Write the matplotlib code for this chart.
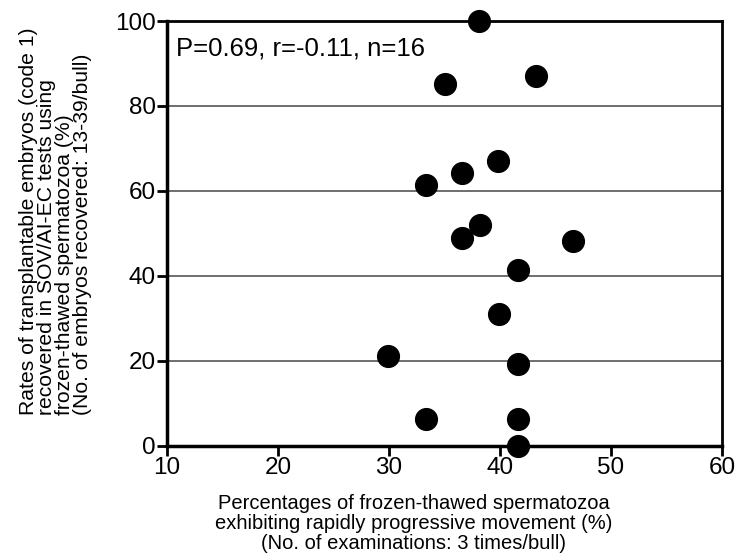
import matplotlib
matplotlib.use("Agg")
import matplotlib.pyplot as plt

plt.rcParams['font.family'] = ['Liberation Sans', 'DejaVu Sans']

# motility (%) vs transplantable embryo rate (%)
motility = [38.1, 43.2, 35.0, 39.8, 36.6, 33.3, 38.2, 36.6, 46.6, 41.6,
            39.9, 29.9, 41.6, 33.3, 41.6, 41.6]
embryo_rate = [100.0, 87.0, 85.2, 67.0, 64.2, 61.3, 52.1, 48.9, 48.3, 41.3,
               31.1, 21.2, 19.3, 6.3, 6.3, 0.0]
xticks = [10, 20, 30, 40, 50, 60]
yticks = [0, 20, 40, 60, 80, 100]

fig = plt.figure(figsize=(7.4, 5.6), dpi=100)
ax = fig.add_axes([0.2257, 0.2036, 0.75, 0.7589])

for y in yticks[1:-1]:
    ax.axhline(y, color='#555555', lw=1.2, zorder=1)

ax.scatter(motility, embryo_rate, s=245, color='black', zorder=3, clip_on=False)

ax.set_xlim(10, 60)
ax.set_ylim(0, 100)
ax.set_xticks(xticks)
ax.set_yticks(yticks)
ax.tick_params(axis='both', direction='out', length=7, width=2, labelsize=17.5, pad=1)

for s in ['left', 'bottom']:
    ax.spines[s].set_linewidth(2.5)
for s in ['top', 'right']:
    ax.spines[s].set_linewidth(2)

ax.text(0.017, 0.935, 'P=0.69, r=-0.11, n=16', transform=ax.transAxes,
        fontsize=18.5, va='center', ha='left')

ax.set_xlabel('Percentages of frozen-thawed spermatozoa\n'
              'exhibiting rapidly progressive movement (%)\n'
              '(No. of examinations: 3 times/bull)',
              fontsize=14.5, linespacing=1.08)
ax.xaxis.set_label_coords(0.444, -0.112)
ax.set_ylabel('Rates of transplantable embryos (code 1)\n'
              'recovered in SOV/AI-EC tests using\n'
              'frozen-thawed spermatozoa (%)\n'
              '(No. of embryos recovered: 13-39/bull)',
              fontsize=15.2, linespacing=0.92, multialignment='left')
ax.yaxis.set_label_coords(-0.136, 0.529)

fig.savefig('out.png', dpi=100)
